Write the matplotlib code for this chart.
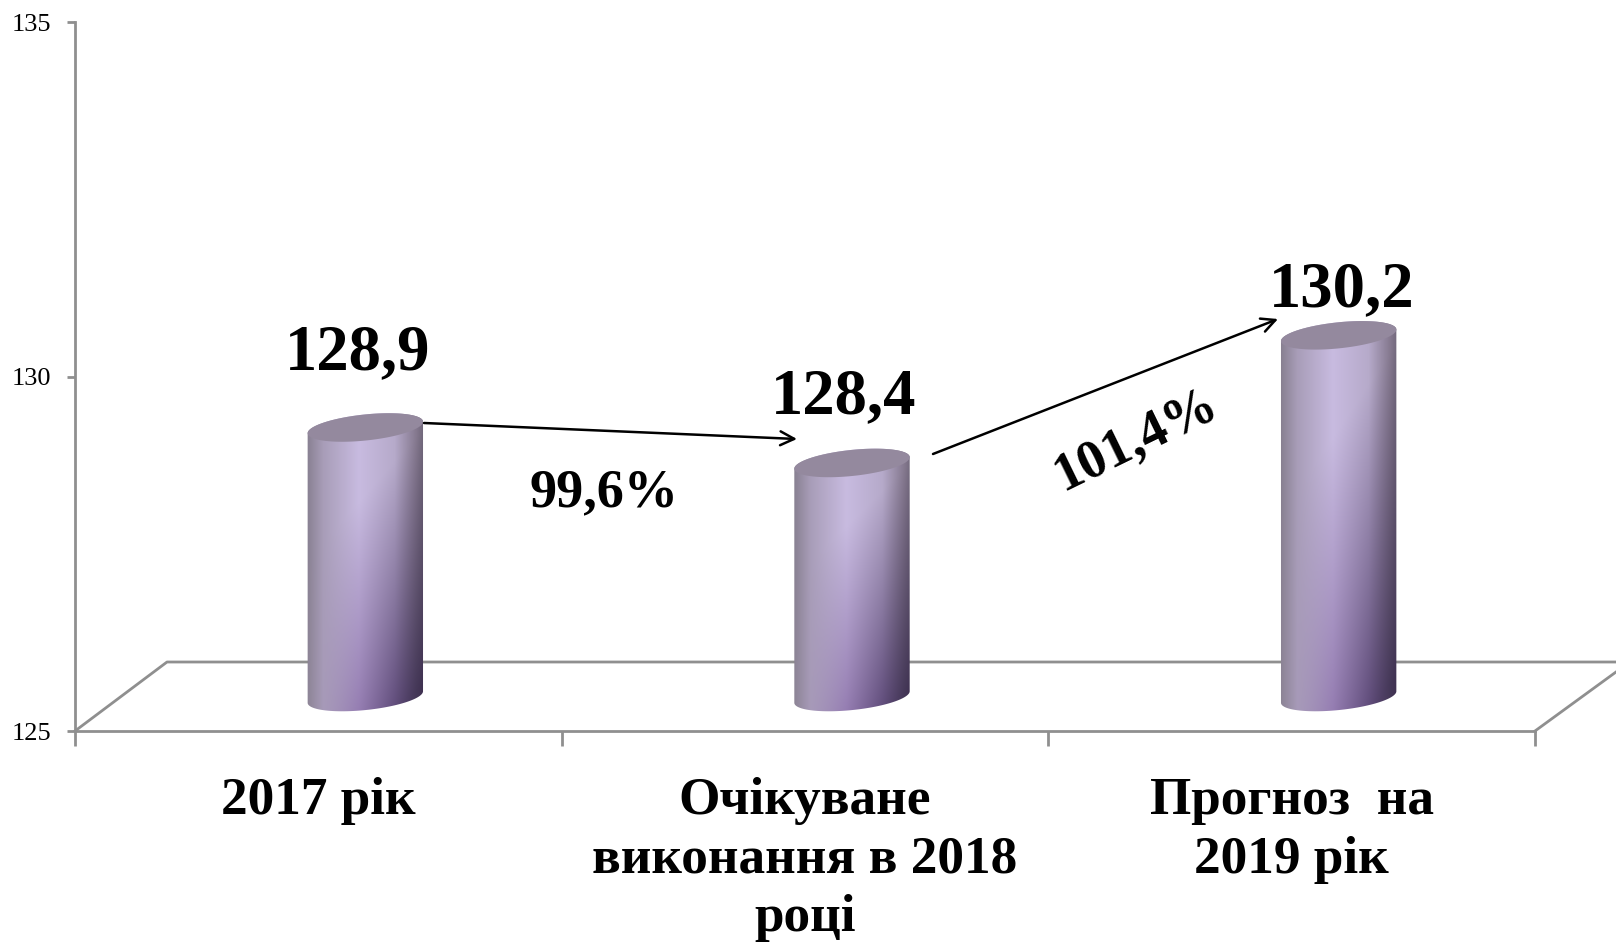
import numpy as np
import matplotlib
matplotlib.use('Agg')
import matplotlib.pyplot as plt
from matplotlib.patches import Polygon
from matplotlib.transforms import Affine2D

categories = ['2017 рік', 'Очікуване\nвиконання в 2018\nроці', 'Прогноз  на\n2019 рік']
values = [128.9, 128.4, 130.2]
value_labels = ['128,9', '128,4', '130,2']
y_ticks = [125, 130, 135]
growth_labels = ['99,6%', '101,4%']

W, H = 1616, 947
plt.rcParams['font.family'] = ['Liberation Serif', 'DejaVu Serif']

fig = plt.figure(figsize=(W / 100, H / 100), dpi=100)
# axes box measured in pixels off the reference
ax_l, ax_r, ax_t, ax_b = 75, 1535, 22, 731
ax = fig.add_axes([ax_l / W, 1 - ax_b / H, (ax_r - ax_l) / W, (ax_b - ax_t) / H])
ax.set_xlim(-0.5, 2.5)
ax.set_ylim(125, 135)
px = Affine2D().scale(1 / W, -1 / H).translate(0, 1) + fig.transFigure

sx = (ax_r - ax_l) / 3
sy = (ax_b - ax_t) / 10
GREY = '#8f8f8f'
LW = 2

for s in ['top', 'right']:
    ax.spines[s].set_visible(False)
for s in ['left', 'bottom']:
    ax.spines[s].set_color(GREY)
    ax.spines[s].set_linewidth(LW)

ax.set_yticks(y_ticks)
ax.tick_params(axis='y', length=6, width=LW, color=GREY, pad=11, labelsize=19)
ax.set_xticks([-0.5, 0.5, 1.5, 2.5])
ax.set_xticklabels([])
ax.tick_params(axis='x', which='major', length=11, width=LW, color=GREY)
ax.set_xticks([0, 1, 2], minor=True)
ax.set_xticklabels(categories, minor=True, fontsize=38.3, fontweight='bold', linespacing=1.29)
ax.tick_params(axis='x', which='minor', length=0, pad=33)

# floor of the 3d box
for xs, ys in [((75, 167, 1616), (731, 662, 662)), ((1535, 1616), (731, 672))]:
    ax.plot(xs, ys, color=GREY, lw=LW, transform=px, clip_on=False, zorder=1)

# cylinder shape, in pixels
A, B, TILT = 58, 13, np.radians(6)
DX, BASE_DY, TOP_DY = 47, 34, 27


def ell(cx, cy, t):
    # tilted ellipse, right side goes up
    x = A * np.cos(t) * np.cos(TILT) - B * np.sin(t) * np.sin(TILT)
    y = A * np.cos(t) * np.sin(TILT) + B * np.sin(t) * np.cos(TILT)
    return cx + x / sx, cy + y / sy


def hex_rgb(c):
    return [int(c[i:i + 2], 16) / 255 for i in (1, 3, 5)]


stops = [0, 0.15, 0.45, 0.75, 0.93, 1]
top_cols = np.array([hex_rgb(c) for c in ['#857d8d', '#a89db8', '#c8bbe0', '#b6aaca', '#85798f', '#6e6578']])
bot_cols = np.array([hex_rgb(c) for c in ['#8d8595', '#a698b8', '#8a70a8', '#5f4b7a', '#453858', '#3e3050']])
uu = np.linspace(0, 1, 120)
vv = np.linspace(0, 1, 200)
top_row = np.stack([np.interp(uu, stops, top_cols[:, i]) for i in range(3)], axis=1)
bot_row = np.stack([np.interp(uu, stops, bot_cols[:, i]) for i in range(3)], axis=1)
# darkening runs towards the lower right corner
mix = np.clip((vv[:, None] + 0.45 * uu[None, :] - 0.5) / 0.85, 0, 1)[:, :, None]
grad = top_row[None, :, :] * (1 - mix) + bot_row[None, :, :] * mix

for i, v in enumerate(values):
    cx = i + DX / sx
    top_y = v + TOP_DY / sy
    base_y = 125 + BASE_DY / sy
    top_x_arc, top_y_arc = ell(cx, top_y, np.linspace(0, np.pi, 60))
    low_x_arc, low_y_arc = ell(cx, base_y, np.linspace(np.pi, 2 * np.pi, 60))
    outline = np.r_[np.c_[top_x_arc, top_y_arc], np.c_[low_x_arc, low_y_arc]]
    clip = Polygon(outline, closed=True, transform=ax.transData, facecolor='none', edgecolor='none')
    ax.add_patch(clip)
    half = (A + 2) / sx
    im = ax.imshow(grad, extent=[cx - half, cx + half, base_y - 15 / sy, top_y + 15 / sy],
                   origin='upper', aspect='auto', zorder=3, interpolation='bilinear')
    im.set_clip_path(clip)
    ex, ey = ell(cx, top_y, np.linspace(0, 2 * np.pi, 120))
    ax.add_patch(Polygon(np.c_[ex, ey], closed=True, facecolor='#94899e', edgecolor='none', zorder=4))

ax.set_xlim(-0.5, 2.5)
ax.set_ylim(125, 135)

# value labels, pixel positions from the reference
label_pos = [(358, 353), (844, 397), (1342, 290)]
for (lx, ly), s in zip(label_pos, value_labels):
    fig.text(lx / W, 1 - ly / H, s, ha='center', va='center', fontsize=46.5, fontweight='bold')

fig.text(604 / W, 1 - 493 / H, growth_labels[0], ha='center', va='center', fontsize=39, fontweight='bold')
fig.text(1136 / W, 1 - 440 / H, growth_labels[1], ha='center', va='center', fontsize=39, fontweight='bold',
         rotation=26, rotation_mode='anchor')

for p0, p1 in [((424, 423), (797, 439)), ((933, 454), (1278, 319))]:
    ax.annotate('', xy=p1, xytext=p0, xycoords=px, textcoords=px, annotation_clip=False, zorder=5,
                arrowprops=dict(arrowstyle='->,head_length=1.0,head_width=0.5', color='black', lw=1.8,
                                shrinkA=0, shrinkB=0))

fig.savefig('out.png', dpi=100)
